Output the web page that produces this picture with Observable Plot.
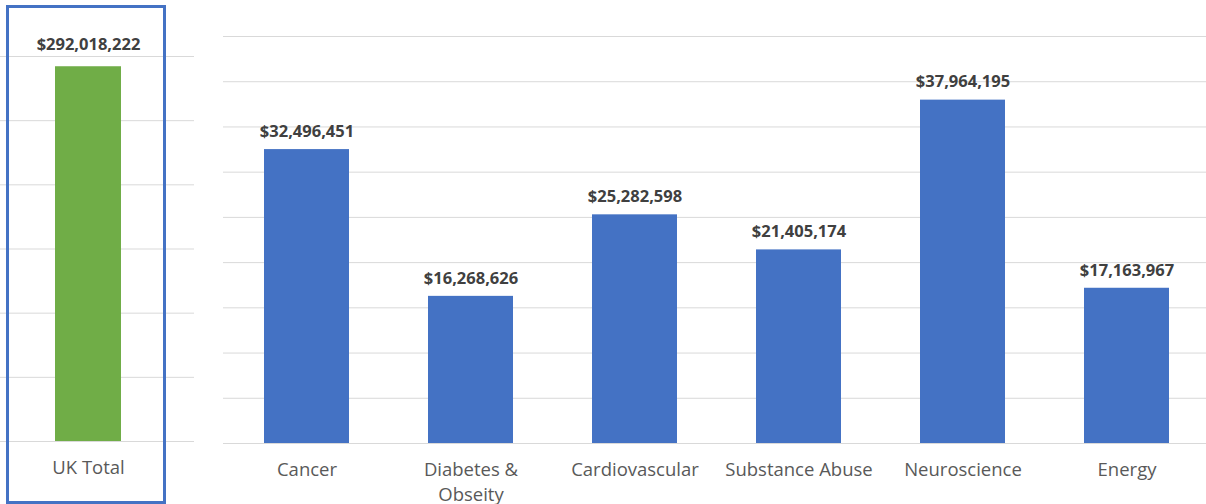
<!DOCTYPE html>
<html>
<head>
<meta charset="utf-8">
<script src="https://cdn.jsdelivr.net/npm/d3@7"></script>
<script src="https://cdn.jsdelivr.net/npm/@observablehq/plot@0.6"></script>
<style>
  html, body { margin: 0; padding: 0; background: #fff; overflow: hidden; }
  #wrap { position: relative; width: 1206px; height: 504px; font-family: "Open Sans", sans-serif; }
  #left, #right { position: absolute; top: 0; }
  #left { left: 0; }
  #right { left: 223px; }
  #box { position: absolute; left: 6px; top: 5px; width: 160px; height: 499px; box-sizing: border-box; border: 3px solid #4472C4; pointer-events: none; }
  svg { overflow: visible; }
</style>
</head>
<body>
<div id="wrap">
  <div id="left"></div>
  <div id="right"></div>
  <div id="box"></div>
</div>
<script>
const totalCategory = ["UK Total"];
const totalValue = [292018222];
const categories = ["Cancer", "Diabetes &\nObseity", "Cardiovascular", "Substance Abuse", "Neuroscience", "Energy"];
const values = [32496451, 16268626, 25282598, 21405174, 37964195, 17163967];
const leftTicks = [0, 50e6, 100e6, 150e6, 200e6, 250e6, 300e6];
const rightTicks = [0, 5e6, 10e6, 15e6, 20e6, 25e6, 30e6, 35e6, 40e6, 45e6];

const fmt = d => "$" + d3.format(",")(d);
const totalData = totalCategory.map((c, i) => ({cat: c, value: totalValue[i]}));
const data = categories.map((c, i) => ({cat: c, value: values[i]}));

const left = Plot.plot({
  width: 194, height: 504,
  marginLeft: 0, marginRight: 0, marginTop: 56, marginBottom: 63,
  style: {fontFamily: "Open Sans", background: "transparent"},
  x: {domain: totalCategory, range: [0, 177], padding: 0.451, axis: null},
  y: {domain: [0, 300e6], axis: null},
  marks: [
    Plot.ruleY(leftTicks, {stroke: "#d9d9d9", strokeWidth: 1}),
    Plot.barY(totalData, {x: "cat", y: "value", fill: "#70AD47"}),
    Plot.text(totalData, {x: "cat", y: "value", text: d => fmt(d.value), dy: -22, fontSize: 16.5, fontWeight: "bold", fill: "#404040"}),
    Plot.text(totalData, {x: "cat", text: "cat", frameAnchor: "bottom", lineAnchor: "top", dy: 15, lineHeight: 1.35, fontSize: 18.5, fill: "#595959"})
  ]
});
document.getElementById("left").appendChild(left);

const right = Plot.plot({
  width: 983, height: 504,
  marginLeft: 0, marginRight: 0, marginTop: 36, marginBottom: 61,
  style: {fontFamily: "Open Sans", background: "transparent"},
  x: {domain: categories, range: [0, 987], paddingInner: 0.48, paddingOuter: 0.24, axis: null},
  y: {domain: [0, 45e6], axis: null},
  marks: [
    Plot.ruleY(rightTicks, {stroke: "#d9d9d9", strokeWidth: 1}),
    Plot.barY(data, {x: "cat", y: "value", fill: "#4472C4"}),
    Plot.text(data, {x: "cat", y: "value", text: d => fmt(d.value), dy: -18, fontSize: 16.5, fontWeight: "bold", fill: "#404040"}),
    Plot.text(data, {x: "cat", text: "cat", frameAnchor: "bottom", lineAnchor: "top", dy: 15, lineHeight: 1.35, fontSize: 18.5, fill: "#595959"})
  ]
});
document.getElementById("right").appendChild(right);
</script>
</body>
</html>
